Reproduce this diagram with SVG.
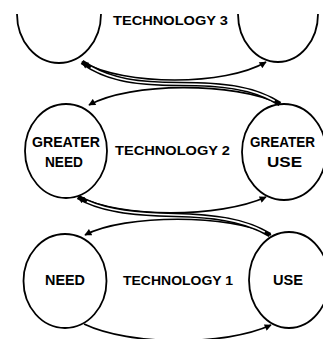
<svg xmlns="http://www.w3.org/2000/svg" width="323" height="339" viewBox="0 0 323 339">
<style>
.node{fill:none;stroke:#000;stroke-width:1.8}
.lbl{font-family:"Liberation Sans",Arial,sans-serif;font-weight:bold;font-size:15px;fill:#000}
.tech{font-family:"Liberation Sans",Arial,sans-serif;font-weight:bold;font-size:13px;fill:#000}
.edge{fill:none;stroke:#000;stroke-width:1.7}
.dbl{fill:none;stroke:#000;stroke-width:4.6}
.dblw{fill:none;stroke:#fff;stroke-width:1.6}
</style>
<defs>
<marker id="arr" viewBox="0 0 10 10" refX="9" refY="5" markerUnits="userSpaceOnUse" markerWidth="8" markerHeight="7" orient="auto">
<path d="M0,0 L10,5 L0,10 z" fill="#000"/>
</marker>
</defs>
<rect width="323" height="339" fill="#fff"/>
<g id="connectors">
<path class="edge" d="M84,324 C130,346 225,346 271,325" marker-end="url(#arr)"/>
<path class="edge" d="M271,235 C230,214 125,214 85,235" marker-end="url(#arr)"/>
<path class="edge" d="M80,197 C120,218 220,218 266,197" marker-end="url(#arr)"/>
<path class="edge" d="M280,104 C235,82 130,82 89,105" marker-end="url(#arr)"/>
<path class="edge" d="M82,62 C125,86 225,86 266,62" marker-end="url(#arr)"/>
<path class="dbl" d="M270,235 C245,220 215,216 175,215 C130,214 100,210 78,197" marker-end="url(#arr)"/>
<path class="dblw" pathLength="100" stroke-dasharray="0 3 92 5" d="M270,235 C245,220 215,216 175,215 C130,214 100,210 78,197"/>
<path class="dbl" d="M280,104 C255,88 225,84 180,84 C130,84 105,78 82,62" marker-end="url(#arr)"/>
<path class="dblw" pathLength="100" stroke-dasharray="0 3 92 5" d="M280,104 C255,88 225,84 180,84 C130,84 105,78 82,62"/>
</g>
<g id="tech3-need">
<path class="node" d="M17,14 A42,49 0 0 0 101,14"/>
</g>
<g id="tech3-use">
<path class="node" d="M238,14 A40,48 0 0 0 318,14"/>
</g>
<text class="tech" x="113" y="25" textLength="115" lengthAdjust="spacingAndGlyphs">TECHNOLOGY 3</text>
<g id="greater-need">
<ellipse class="node" cx="66" cy="151" rx="41" ry="47"/>
<text class="lbl" x="32" y="147" textLength="68" lengthAdjust="spacingAndGlyphs">GREATER</text>
<text class="lbl" x="45" y="167" textLength="38" lengthAdjust="spacingAndGlyphs">NEED</text>
</g>
<g id="greater-use">
<ellipse class="node" cx="284" cy="152" rx="42" ry="48"/>
<text class="lbl" x="250" y="147" textLength="65" lengthAdjust="spacingAndGlyphs">GREATER</text>
<text class="lbl" x="267" y="167" textLength="35" lengthAdjust="spacingAndGlyphs">USE</text>
</g>
<text class="tech" x="115" y="155" textLength="115" lengthAdjust="spacingAndGlyphs">TECHNOLOGY 2</text>
<g id="need">
<ellipse class="node" cx="65" cy="281" rx="41.5" ry="47"/>
<text class="lbl" x="45" y="285" textLength="40" lengthAdjust="spacingAndGlyphs">NEED</text>
</g>
<g id="use">
<ellipse class="node" cx="289" cy="280" rx="40" ry="48"/>
<text class="lbl" x="273" y="285" textLength="30" lengthAdjust="spacingAndGlyphs">USE</text>
</g>
<text class="tech" x="123" y="285" textLength="110" lengthAdjust="spacingAndGlyphs">TECHNOLOGY 1</text>
</svg>
